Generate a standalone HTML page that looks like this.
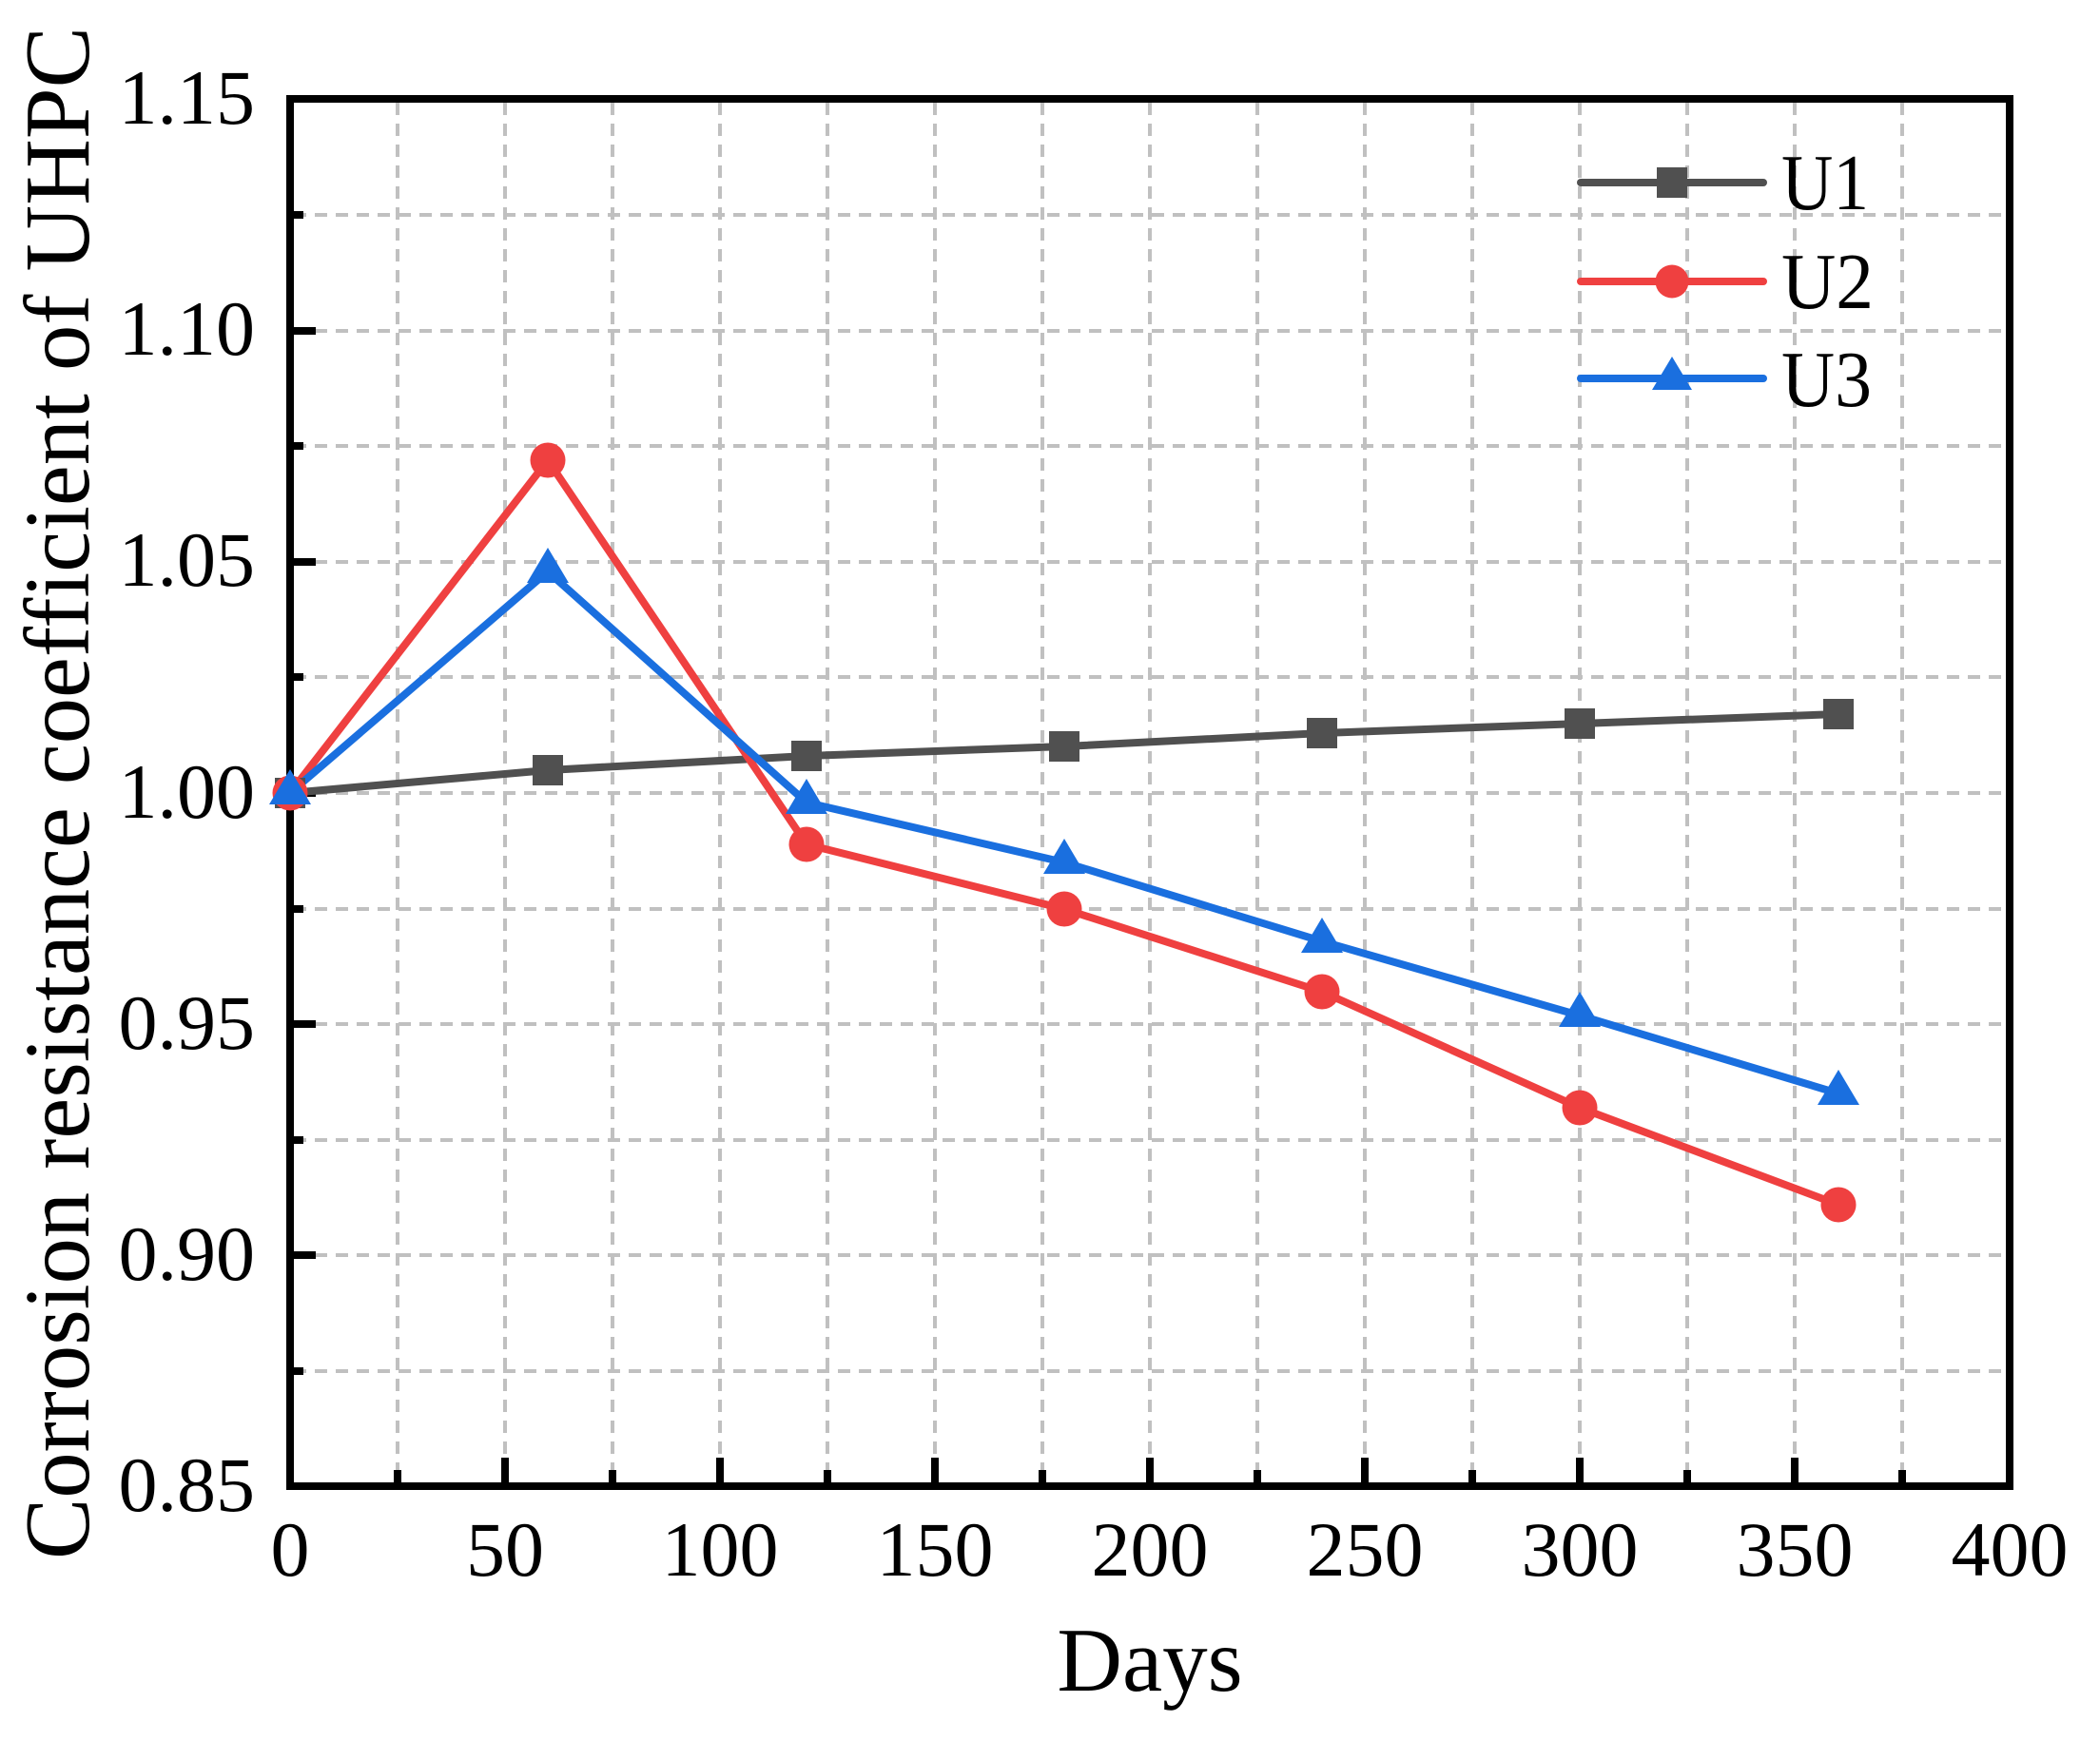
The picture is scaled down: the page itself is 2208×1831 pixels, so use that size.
<!DOCTYPE html>
<html><head><meta charset="utf-8"><style>html,body{margin:0;padding:0;background:#fff}svg{display:block}text{font-family:"Liberation Serif","Times New Roman",serif}</style></head>
<body>
<svg width="2208" height="1831" viewBox="0 0 2208 1831" xmlns="http://www.w3.org/2000/svg" style="font-family:'Liberation Serif',serif">
<rect width="2208" height="1831" fill="#fff"/>
<g stroke="#c0c0c0" stroke-width="4" stroke-dasharray="13 9">
<line x1="418" y1="108" x2="418" y2="1559"/><line x1="531" y1="108" x2="531" y2="1559"/><line x1="644" y1="108" x2="644" y2="1559"/><line x1="757" y1="108" x2="757" y2="1559"/><line x1="870" y1="108" x2="870" y2="1559"/><line x1="983" y1="108" x2="983" y2="1559"/><line x1="1096" y1="108" x2="1096" y2="1559"/><line x1="1209" y1="108" x2="1209" y2="1559"/><line x1="1322" y1="108" x2="1322" y2="1559"/><line x1="1435" y1="108" x2="1435" y2="1559"/><line x1="1548" y1="108" x2="1548" y2="1559"/><line x1="1661" y1="108" x2="1661" y2="1559"/><line x1="1774" y1="108" x2="1774" y2="1559"/><line x1="1887" y1="108" x2="1887" y2="1559"/><line x1="2000" y1="108" x2="2000" y2="1559"/>
<line x1="309" y1="226" x2="2109" y2="226"/><line x1="309" y1="348" x2="2109" y2="348"/><line x1="309" y1="469" x2="2109" y2="469"/><line x1="309" y1="591" x2="2109" y2="591"/><line x1="309" y1="712" x2="2109" y2="712"/><line x1="309" y1="834" x2="2109" y2="834"/><line x1="309" y1="956" x2="2109" y2="956"/><line x1="309" y1="1077" x2="2109" y2="1077"/><line x1="309" y1="1199" x2="2109" y2="1199"/><line x1="309" y1="1320" x2="2109" y2="1320"/><line x1="309" y1="1442" x2="2109" y2="1442"/>
</g>
<g stroke="#000" stroke-width="8">
<line x1="418" y1="1559" x2="418" y2="1546"/><line x1="531" y1="1559" x2="531" y2="1533"/><line x1="644" y1="1559" x2="644" y2="1546"/><line x1="757" y1="1559" x2="757" y2="1533"/><line x1="870" y1="1559" x2="870" y2="1546"/><line x1="983" y1="1559" x2="983" y2="1533"/><line x1="1096" y1="1559" x2="1096" y2="1546"/><line x1="1209" y1="1559" x2="1209" y2="1533"/><line x1="1322" y1="1559" x2="1322" y2="1546"/><line x1="1435" y1="1559" x2="1435" y2="1533"/><line x1="1548" y1="1559" x2="1548" y2="1546"/><line x1="1661" y1="1559" x2="1661" y2="1533"/><line x1="1774" y1="1559" x2="1774" y2="1546"/><line x1="1887" y1="1559" x2="1887" y2="1533"/><line x1="2000" y1="1559" x2="2000" y2="1546"/>
<line x1="309" y1="226" x2="319" y2="226"/><line x1="309" y1="348" x2="332" y2="348"/><line x1="309" y1="469" x2="319" y2="469"/><line x1="309" y1="591" x2="332" y2="591"/><line x1="309" y1="712" x2="319" y2="712"/><line x1="309" y1="834" x2="332" y2="834"/><line x1="309" y1="956" x2="319" y2="956"/><line x1="309" y1="1077" x2="332" y2="1077"/><line x1="309" y1="1199" x2="319" y2="1199"/><line x1="309" y1="1320" x2="332" y2="1320"/><line x1="309" y1="1442" x2="319" y2="1442"/>
</g>
<rect x="305" y="104" width="1808" height="1459" fill="none" stroke="#000" stroke-width="8"/>
<g fill="none" stroke-width="8" stroke-linejoin="round">
<polyline stroke="#505050" points="305,834 576,810 848,795 1119,785 1390,771 1661,761 1933,751"/>
<polyline stroke="#ef4040" points="305,834 576,484 848,888 1119,956 1390,1043 1661,1165 1933,1267"/>
<polyline stroke="#1a6fdf" points="305,834 576,601 848,844 1119,907 1390,990 1661,1068 1933,1150"/>
</g>
<g fill="#505050">
<rect x="289" y="818" width="32" height="32"/><rect x="560" y="794" width="32" height="32"/><rect x="832" y="779" width="32" height="32"/><rect x="1103" y="769" width="32" height="32"/><rect x="1374" y="755" width="32" height="32"/><rect x="1645" y="745" width="32" height="32"/><rect x="1917" y="735" width="32" height="32"/>
</g>
<g fill="#ef4040">
<circle cx="305" cy="834" r="18.5"/><circle cx="576" cy="484" r="18.5"/><circle cx="848" cy="888" r="18.5"/><circle cx="1119" cy="956" r="18.5"/><circle cx="1390" cy="1043" r="18.5"/><circle cx="1661" cy="1165" r="18.5"/><circle cx="1933" cy="1267" r="18.5"/>
</g>
<g fill="#1a6fdf">
<polygon points="305,809 327,846 283,846"/><polygon points="576,576 598,613 554,613"/><polygon points="848,819 870,856 826,856"/><polygon points="1119,882 1141,919 1097,919"/><polygon points="1390,965 1412,1002 1368,1002"/><polygon points="1661,1043 1683,1080 1639,1080"/><polygon points="1933,1125 1955,1162 1911,1162"/>
</g>
<g stroke-width="8" stroke-linecap="round">
<line x1="1662" y1="192" x2="1854" y2="192" stroke="#505050"/>
<line x1="1662" y1="296" x2="1854" y2="296" stroke="#ef4040"/>
<line x1="1662" y1="398" x2="1854" y2="398" stroke="#1a6fdf"/>
</g>
<rect x="1742" y="176" width="32" height="32" fill="#505050"/>
<circle cx="1758" cy="296" r="17.5" fill="#ef4040"/>
<polygon points="1758,375 1779,410 1737,410" fill="#1a6fdf"/>
<g font-size="84" fill="#000">
<text x="1873" y="220" textLength="92" lengthAdjust="spacingAndGlyphs">U1</text><text x="1873" y="324" textLength="97" lengthAdjust="spacingAndGlyphs">U2</text><text x="1873" y="427" textLength="95" lengthAdjust="spacingAndGlyphs">U3</text>
</g>
<g font-size="82" fill="#000" text-anchor="end">
<text x="268" y="130">1.15</text><text x="268" y="373">1.10</text><text x="268" y="616">1.05</text><text x="268" y="860">1.00</text><text x="268" y="1103">0.95</text><text x="268" y="1346">0.90</text><text x="268" y="1589">0.85</text>
</g>
<g font-size="82" fill="#000" text-anchor="middle">
<text x="305" y="1657">0</text><text x="531" y="1657">50</text><text x="757" y="1657">100</text><text x="983" y="1657">150</text><text x="1209" y="1657">200</text><text x="1435" y="1657">250</text><text x="1661" y="1657">300</text><text x="1887" y="1657">350</text><text x="2113" y="1657">400</text>
</g>
<text x="1209" y="1778" font-size="95" text-anchor="middle">Days</text>
<text transform="translate(93,834) rotate(-90)" font-size="98" text-anchor="middle" textLength="1612" lengthAdjust="spacingAndGlyphs">Corrosion resistance coefficient of UHPC</text>
</svg>
</body></html>
